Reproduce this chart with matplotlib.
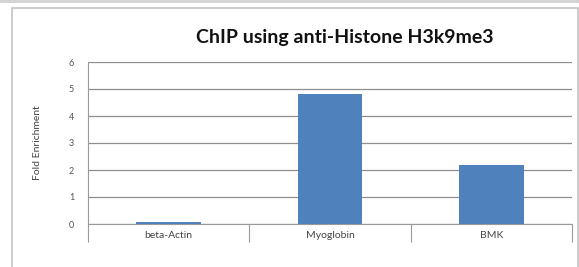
import matplotlib
matplotlib.use("Agg")
import matplotlib.pyplot as plt
from matplotlib.patches import Rectangle

# values
genes = ["beta-Actin", "Myoglobin", "BMK"]
fold = [0.08, 4.81, 2.17]
yticks = [0, 1, 2, 3, 4, 5, 6]

plt.rcParams['font.family'] = ['Lato', 'DejaVu Sans']

fig = plt.figure(figsize=(5.79, 2.67), dpi=100)

# outer chart frame, like the Excel chart border
fig.patches.append(Rectangle((12/579, -0.01), 566/579, 1 - 8/267 + 0.01,
                             transform=fig.transFigure, fill=False,
                             edgecolor='#c4c4c4', linewidth=1.2))
fig.patches.append(Rectangle((0, 1 - 3/267), 1, 3/267, transform=fig.transFigure,
                             facecolor='#d4d4d4', edgecolor='none'))

ax = fig.add_axes([88/579, 1 - 224/267, 484/579, 162/267])

x = range(len(genes))
ax.bar(x, fold, width=0.4, color='#4f81bd', zorder=3)

ax.set_xlim(-0.5, 2.5)
ax.set_ylim(0, 6)
ax.set_yticks(yticks)
ax.set_yticklabels([str(v) for v in yticks], fontsize=6.5, color='#555555')
ax.set_xticks(list(x))
ax.set_xticklabels(genes, fontsize=7.5, color='#444444')
ax.tick_params(axis='x', which='major', length=0, pad=5)
ax.tick_params(axis='y', length=0, pad=10)
ax.set_xticks([-0.5, 0.5, 1.5, 2.5], minor=True)
ax.tick_params(axis='x', which='minor', length=13, width=0.8, color='#9a9a9a')

ax.yaxis.grid(True, color='#8e8e8e', linewidth=0.9, zorder=0)
for s in ['top', 'right']:
    ax.spines[s].set_visible(False)
ax.spines['left'].set_color('#9a9a9a')
ax.spines['bottom'].set_color('#9a9a9a')

ax.set_ylabel("Fold Enrichment", fontsize=7.5, color='#444444', labelpad=19)

fig.text(345/579, 1 - 37/267, "ChIP using anti-Histone H3k9me3", fontsize=14,
         fontweight='bold', ha='center', va='center', color='#111111')

fig.savefig("out.png", dpi=100)
